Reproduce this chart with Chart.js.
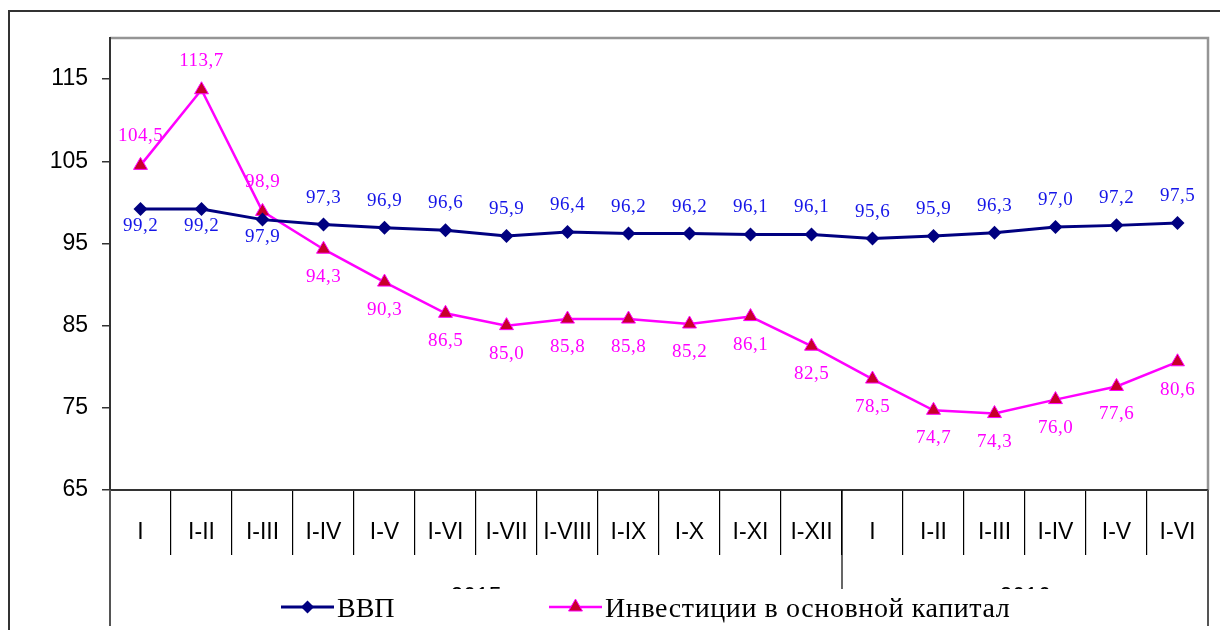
<!DOCTYPE html>
<html>
<head>
<meta charset="utf-8">
<script src="https://cdn.jsdelivr.net/npm/chart.js@4/dist/chart.umd.min.js"></script>
<style>
  html, body { margin: 0; padding: 0; background: #fff; }
</style>
</head>
<body>
<canvas id="chart" width="1220" height="630"></canvas>
<script>
const months = ['I', 'I-II', 'I-III', 'I-IV', 'I-V', 'I-VI', 'I-VII', 'I-VIII', 'I-IX',
                'I-X', 'I-XI', 'I-XII', 'I', 'I-II', 'I-III', 'I-IV', 'I-V', 'I-VI'];
const years = ['2015', '2016'];
const yearSpans = [12, 6];
const gdp = [99.2, 99.2, 97.9, 97.3, 96.9, 96.6, 95.9, 96.4, 96.2, 96.2, 96.1, 96.1,
             95.6, 95.9, 96.3, 97.0, 97.2, 97.5];
const invest = [104.5, 113.7, 98.9, 94.3, 90.3, 86.5, 85.0, 85.8, 85.8, 85.2, 86.1, 82.5,
                78.5, 74.7, 74.3, 76.0, 77.6, 80.6];
const yTicks = [65, 75, 85, 95, 105, 115];

const navy = '#000080';
const magenta = '#FF00FF';
const triRed = '#C8002A';

const fmt = v => v.toFixed(1).replace('.', ',');

// which side of the point each value label sits on
function labelBelow(dsIndex, i) {
    if (dsIndex === 0) return i < 3;
    return i >= 3;
}

const extras = {
    id: 'extras',
    beforeDraw(chart) {
        const ctx = chart.ctx;
        ctx.save();
        ctx.fillStyle = '#fff';
        ctx.fillRect(0, 0, chart.width, chart.height);
        // outer frame
        ctx.strokeStyle = '#333';
        ctx.lineWidth = 2;
        ctx.strokeRect(9, 11, 1300, 700);
        // plot area frame (top + right)
        const a = chart.chartArea;
        ctx.strokeStyle = '#959595';
        ctx.lineWidth = 2.5;
        ctx.beginPath();
        ctx.moveTo(a.left, a.top);
        ctx.lineTo(a.right, a.top);
        ctx.lineTo(a.right, a.bottom);
        ctx.stroke();
        ctx.restore();
    },
    afterDatasetsDraw(chart) {
        const ctx = chart.ctx;
        ctx.save();
        ctx.font = "19px 'Liberation Serif'";
        ctx.letterSpacing = '0.5px';
        ctx.textAlign = 'center';
        ctx.textBaseline = 'middle';
        chart.data.datasets.forEach((ds, d) => {
            const meta = chart.getDatasetMeta(d);
            ctx.fillStyle = d === 0 ? '#1515E8' : magenta;
            meta.data.forEach((pt, i) => {
                const below = labelBelow(d, i);
                let dy;
                if (d === 0) dy = below ? 17 : -27;
                else dy = below ? 28 : -29;
                ctx.fillText(fmt(ds.data[i]), pt.x, pt.y + dy);
            });
        });
        ctx.restore();
    },
    afterDraw(chart) {
        const ctx = chart.ctx;
        const a = chart.chartArea;
        const x = chart.scales.x;
        ctx.save();
        // year labels
        ctx.font = "23px 'Liberation Sans'";
        ctx.fillStyle = '#000';
        ctx.textAlign = 'center';
        ctx.textBaseline = 'alphabetic';
        let start = 0;
        years.forEach((y, k) => {
            const end = start + yearSpans[k] - 1;
            const cx = (x.getPixelForValue(start) + x.getPixelForValue(end)) / 2;
            ctx.fillText(y, cx, 604);
            start += yearSpans[k];
        });
        // legend box covers the lower half of year row
        ctx.fillStyle = '#fff';
        ctx.fillRect(a.left + 2, 589, a.right - a.left - 4, 41);
        // year separator
        const sep = (x.getPixelForValue(11) + x.getPixelForValue(12)) / 2;
        ctx.strokeStyle = '#000';
        ctx.lineWidth = 1.2;
        ctx.beginPath();
        ctx.moveTo(sep, a.bottom);
        ctx.lineTo(sep, 589);
        ctx.stroke();
        // side lines of the category area
        ctx.strokeStyle = '#555';
        ctx.lineWidth = 2;
        ctx.beginPath();
        ctx.moveTo(a.left, a.bottom);
        ctx.lineTo(a.left, 626);
        ctx.moveTo(a.right, a.bottom);
        ctx.lineTo(a.right, 626);
        ctx.stroke();

        // legend
        const ly = 607;
        ctx.font = "28px 'Liberation Serif'";
        ctx.textAlign = 'left';
        const items = [
            { x0: 281, x1: 334, color: navy, lw: 3, style: 'rectRot', r: 6.5, fill: navy, border: navy, bw: 0,
              text: chart.data.datasets[0].label, tx: 337, ls: '0px' },
            { x0: 549, x1: 602, color: magenta, lw: 2.5, style: 'triangle', r: 8, fill: triRed, border: magenta, bw: 1,
              text: chart.data.datasets[1].label, tx: 605, ls: '0.6px' }
        ];
        items.forEach(it => {
            ctx.strokeStyle = it.color;
            ctx.lineWidth = it.lw;
            ctx.beginPath();
            ctx.moveTo(it.x0, ly);
            ctx.lineTo(it.x1, ly);
            ctx.stroke();
            ctx.fillStyle = it.fill;
            ctx.strokeStyle = it.border;
            ctx.lineWidth = it.bw;
            Chart.helpers.drawPoint(ctx, { pointStyle: it.style, radius: it.r, rotation: 0, borderWidth: it.bw },
                (it.x0 + it.x1) / 2, ly);
            ctx.fillStyle = '#000';
            ctx.letterSpacing = it.ls;
            ctx.fillText(it.text, it.tx, 617);
        });
        ctx.restore();
    }
};

new Chart(document.getElementById('chart').getContext('2d'), {
    type: 'line',
    data: {
        labels: months,
        datasets: [
            {
                label: 'ВВП',
                data: gdp,
                borderColor: navy,
                backgroundColor: navy,
                borderWidth: 3,
                pointStyle: 'rectRot',
                pointRadius: 7,
                pointBorderWidth: 0,
                tension: 0
            },
            {
                label: 'Инвестиции в основной капитал',
                data: invest,
                borderColor: magenta,
                backgroundColor: triRed,
                pointBorderColor: magenta,
                borderWidth: 2.5,
                pointStyle: 'triangle',
                pointRadius: 8,
                pointBorderWidth: 1,
                tension: 0
            }
        ]
    },
    options: {
        responsive: false,
        animation: false,
        devicePixelRatio: 1,
        layout: { padding: { top: 38, right: 12, left: 0, bottom: 0 } },
        plugins: {
            legend: { display: false },
            tooltip: { enabled: false }
        },
        scales: {
            x: {
                offset: true,
                grid: {
                    offset: true,
                    drawOnChartArea: false,
                    tickLength: 65,
                    color: '#000',
                    lineWidth: 1.2
                },
                border: { color: '#333', width: 2 },
                ticks: {
                    color: '#000',
                    font: { family: "'Liberation Sans'", size: 23 },
                    padding: -36,
                    maxRotation: 0,
                    autoSkip: false
                },
                afterFit(scale) { scale.height = 140; }
            },
            y: {
                min: 65,
                max: 120,
                afterBuildTicks(scale) {
                    scale.ticks = yTicks.map(v => ({ value: v }));
                },
                grid: {
                    drawOnChartArea: false,
                    tickLength: 8,
                    color: '#333',
                    lineWidth: 1.5
                },
                border: { color: '#333', width: 2 },
                ticks: {
                    color: '#000',
                    font: { family: "'Liberation Sans'", size: 23 },
                    padding: 14
                },
                afterFit(scale) { scale.width = 110; }
            }
        }
    },
    plugins: [extras]
});
</script>
</body>
</html>
